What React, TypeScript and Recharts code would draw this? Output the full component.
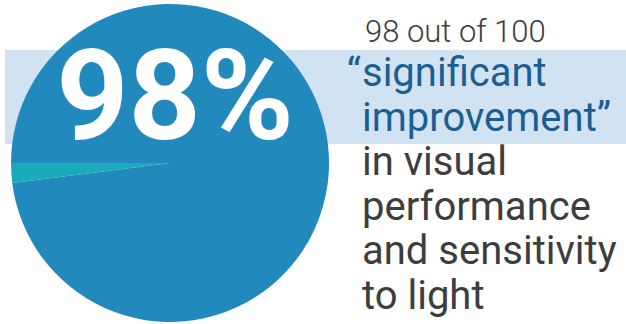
import * as React from "react";
import { PieChart, Pie, Cell } from "recharts";

const groups = ["Not significant", "Significant improvement"];
const patients = [2, 98];
const sliceColors = ["#1aabbb", "#2289bd"];

const headline = "98%";
const leadLine = "98 out of 100";
const quoteLines = ["significant", "improvement"];
const restLines = ["in visual", "performance", "and sensitivity", "to light"];

const data = groups.map((g, i) => ({ name: g, value: patients[i] }));

const W = 626;
const H = 324;
const FONT = "Roboto, 'Noto Sans', sans-serif";
const TX = 362;
const LINE = 44.5;
const BODY_WEIGHT = 400;

export default function App() {
  return (
    <div
      style={{
        position: "absolute",
        left: 0,
        top: 0,
        width: W,
        height: H,
        background: "#fff",
        overflow: "hidden",
      }}
    >
      {/* light blue band behind the pie */}
      <div
        style={{
          position: "absolute",
          left: 5,
          top: 50,
          width: W - 5,
          height: 94,
          background: "#d1e3f2",
        }}
      />
      <div style={{ position: "absolute", left: 0, top: 0 }}>
        <PieChart width={W} height={H} margin={{ top: 0, right: 0, bottom: 0, left: 0 }}>
          <Pie
            data={data}
            dataKey="value"
            nameKey="name"
            cx={170}
            cy={163}
            innerRadius={0}
            outerRadius={159}
            startAngle={180}
            endAngle={540}
            stroke="none"
            isAnimationActive={false}
          >
            {data.map((d, i) => (
              <Cell key={d.name} fill={sliceColors[i]} />
            ))}
          </Pie>
        </PieChart>
      </div>
      <svg
        width={W}
        height={H}
        style={{ position: "absolute", left: 0, top: 0 }}
      >
        <text
          x={175}
          y={139}
          textAnchor="middle"
          fill="#fff"
          fontFamily={FONT}
          fontWeight={700}
          fontSize={126}
        >
          {headline}
        </text>
        <text x={TX + 3} y={41.7} fill="#3d3d3d" fontFamily={FONT} fontWeight={300} fontSize={31}>
          {leadLine}
        </text>
        <text x={TX - 1} y={41.7 + LINE} textAnchor="end" fill="#1b5e93" fontFamily={FONT} fontWeight={BODY_WEIGHT} fontSize={40}>
          “
        </text>
        {quoteLines.map((t, i) => (
          <text
            key={t}
            x={TX}
            y={41.7 + LINE * (i + 1)}
            fill="#1b5e93"
            fontFamily={FONT}
            fontWeight={BODY_WEIGHT}
            fontSize={40}
          >
            {i === quoteLines.length - 1 ? t + "”" : t}
          </text>
        ))}
        {restLines.map((t, i) => (
          <text
            key={t}
            x={TX}
            y={41.7 + LINE * (i + 3)}
            fill="#3d3d3d"
            fontFamily={FONT}
            fontWeight={BODY_WEIGHT}
            fontSize={40}
          >
            {t}
          </text>
        ))}
      </svg>
    </div>
  );
}
